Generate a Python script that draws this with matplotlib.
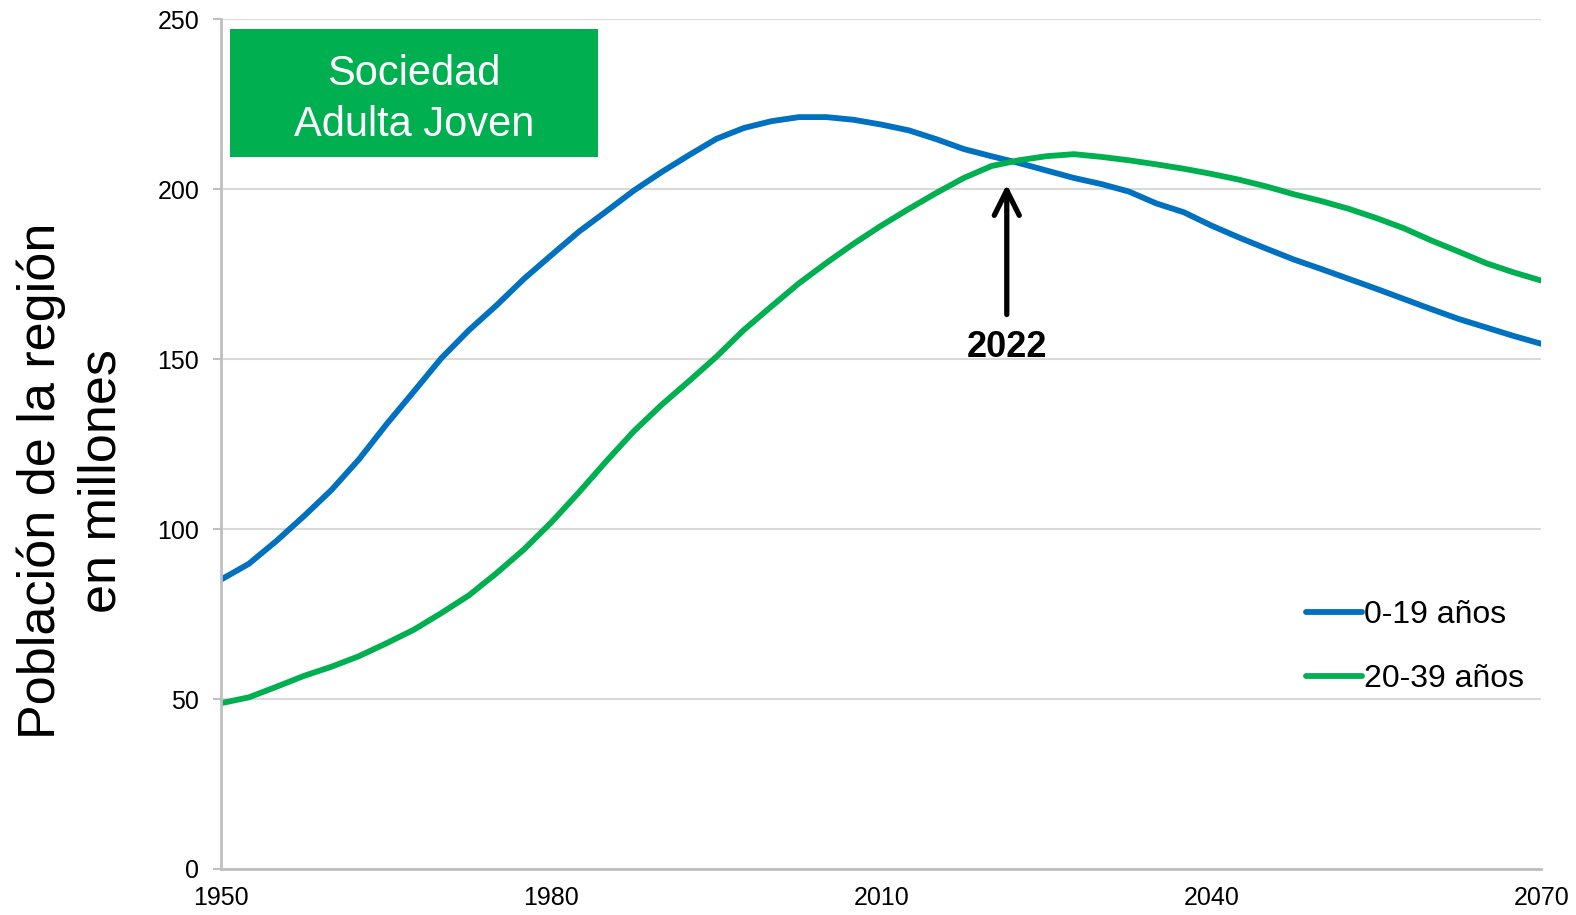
import numpy as np
import matplotlib
matplotlib.use("Agg")
import matplotlib.pyplot as plt
from matplotlib.patches import Rectangle

plt.rcParams["font.family"] = ["Liberation Sans", "DejaVu Sans"]

anios = [1950, 1952.5, 1955, 1957.5, 1960, 1962.5, 1965, 1967.5, 1970, 1972.5,
         1975, 1977.5, 1980, 1982.5, 1985, 1987.5, 1990, 1992.5, 1995, 1997.5,
         2000, 2002.5, 2005, 2007.5, 2010, 2012.5, 2015, 2017.5, 2020, 2022.5,
         2025, 2027.5, 2030, 2032.5, 2035, 2037.5, 2040, 2042.5, 2045, 2047.5,
         2050, 2052.5, 2055, 2057.5, 2060, 2062.5, 2065, 2067.5, 2070]
pob_0_19 = [85.2, 89.8, 96.5, 103.8, 111.5, 120.5, 130.8, 140.5, 150.3, 158.5,
            165.8, 173.6, 180.6, 187.5, 193.5, 199.6, 205.0, 210.0, 214.8, 218.0,
            220.0, 221.2, 221.2, 220.4, 219.0, 217.3, 214.7, 211.8, 209.7, 207.7,
            205.5, 203.3, 201.5, 199.3, 195.8, 193.2, 189.3, 185.8, 182.5, 179.3,
            176.5, 173.6, 170.7, 167.7, 164.7, 161.8, 159.3, 156.8, 154.5]
pob_20_39 = [48.8, 50.5, 53.6, 56.8, 59.5, 62.6, 66.4, 70.4, 75.3, 80.5,
             87.0, 94.0, 102.0, 110.8, 120.0, 128.8, 136.5, 143.5, 150.7, 158.6,
             165.5, 172.3, 178.3, 184.0, 189.3, 194.2, 198.9, 203.3, 206.8, 208.5,
             209.7, 210.3, 209.5, 208.5, 207.3, 206.0, 204.5, 202.8, 200.8, 198.5,
             196.5, 194.2, 191.5, 188.5, 184.9, 181.6, 178.2, 175.5, 173.1]
etiquetas = ["0-19 años", "20-39 años"]
anio_cruce = 2022
ticks_x = [1950, 1980, 2010, 2040, 2070]
ticks_y = [0, 50, 100, 150, 200, 250]

AZUL = "#0070c0"
VERDE = "#00b050"
GRIS = "#bfbfbf"

fig = plt.figure(figsize=(15.76, 9.15), dpi=100)
ax = fig.add_axes([0.1405, 0.0503, 0.8375, 0.9287])

ax.plot(anios, pob_0_19, color=AZUL, lw=4.2, label=etiquetas[0], solid_capstyle="round")
ax.plot(anios, pob_20_39, color=VERDE, lw=4.2, label=etiquetas[1], solid_capstyle="round")

ax.set_xlim(1950, 2070)
ax.set_ylim(0, 250)
ax.set_xticks(ticks_x)
ax.set_yticks(ticks_y)
ax.tick_params(axis="x", length=0, pad=12, labelsize=18)
ax.tick_params(axis="y", length=6, width=1.5, color=GRIS, pad=10, labelsize=18)
ax.grid(axis="y", color="#d9d9d9", lw=1.5)
ax.set_axisbelow(True)
for lado in ["top", "right"]:
    ax.spines[lado].set_visible(False)
for lado in ["left", "bottom"]:
    ax.spines[lado].set_color(GRIS)
    ax.spines[lado].set_linewidth(2)

# caja verde
ax.add_patch(Rectangle((0.0068, 0.838), 0.2783, 0.151, transform=ax.transAxes,
                       facecolor=VERDE, edgecolor="none", zorder=5))
ax.text(0.146, 0.906, "Sociedad\nAdulta Joven", transform=ax.transAxes, color="white",
        fontsize=30, ha="center", va="center", linespacing=1.36, zorder=6)

# flecha 2022
ax.annotate("", xy=(anio_cruce - 0.6, 202.2), xytext=(anio_cruce - 0.6, 162.3),
            arrowprops=dict(arrowstyle="->", lw=3.8, color="black", mutation_scale=45))
ax.text(anio_cruce - 0.6, 153.4, str(anio_cruce), fontsize=26, fontweight="bold",
        ha="center", va="center")

ax.legend(loc="center left", bbox_to_anchor=(0.822, 0.261), frameon=False, fontsize=23,
          handlelength=1.75, handletextpad=0.05, borderpad=0, borderaxespad=0,
          labelspacing=1.05)

fig.text(0.0452, 0.474, "Población de la región\nen millones", rotation=90, fontsize=37.5,
         ha="center", va="center", multialignment="center", linespacing=1.3)

fig.savefig("out.png", dpi=100)
